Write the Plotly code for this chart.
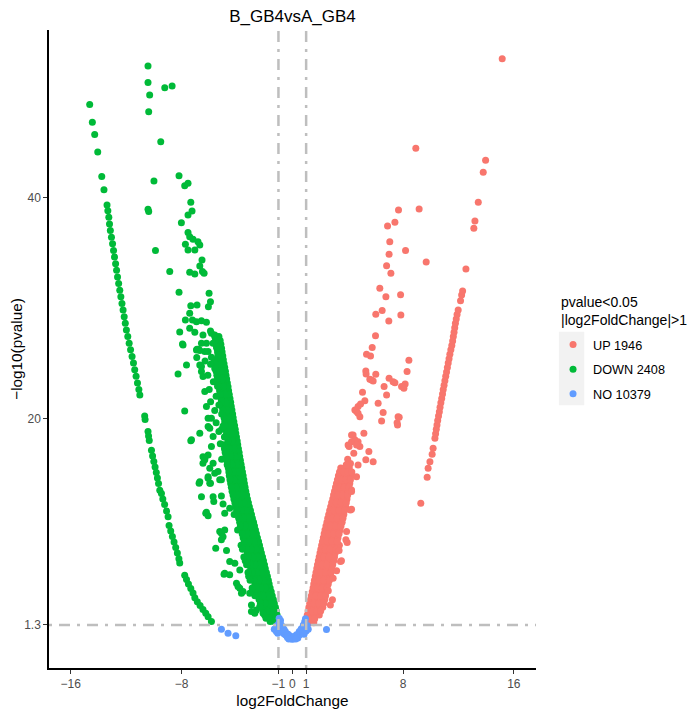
import plotly.graph_objects as go

# colours of the three groups (ggplot default hue palette)
UP_COLOR = "#F8766D"
DOWN_COLOR = "#00BA38"
NO_COLOR = "#619CFF"

group_names = ["UP 1946", "DOWN 2408", "NO 10379"]
x_ticks = [-16, -8, -1, 0, 1, 8, 16]
y_ticks = [1.3, 20, 40]
y_tick_labels = ["1.3", "20", "40"]
fc_cut = 1
p_cut = 1.3

# --- DOWN genes -----------------------------------------------------------
# outer arc of strongly down-regulated genes
down_arc_x = [-14.63, -14.44, -14.27, -14.05, -13.76, -13.60, -13.38, -13.32,
              -13.25, -13.20, -13.14, -13.06, -12.98, -12.91, -12.84, -12.76,
              -12.69, -12.62, -12.54, -12.46, -12.38, -12.30, -12.22, -12.14,
              -12.06, -11.98, -11.88, -11.78, -11.68, -11.57, -11.47, -11.38,
              -11.28, -11.18, -11.08, -11.01, -10.66, -10.63, -10.42, -10.38,
              -10.33, -10.17, -10.09, -10.00, -9.91, -9.82, -9.74, -9.66,
              -9.57, -9.45, -9.35, -9.22, -9.08, -8.97, -8.90, -8.78, -8.66,
              -8.54, -8.42, -8.30, -8.19, -8.13, -7.77, -7.64, -7.50, -7.33,
              -7.17, -7.04, -6.86, -6.66, -6.45, -6.25, -6.08, -5.84]
down_arc_y = [48.4, 46.8, 45.7, 44.1, 41.9, 40.7, 39.3, 38.8,
              38.2, 37.6, 37.0, 36.4, 35.8, 35.2, 34.6, 34.0,
              33.4, 32.8, 32.2, 31.6, 31.0, 30.4, 29.8, 29.2,
              28.6, 28.0, 27.4, 26.8, 26.2, 25.6, 25.0, 24.4,
              23.8, 23.2, 22.6, 22.1, 20.2, 19.9, 18.8, 18.4,
              18.0, 17.1, 16.6, 16.1, 15.6, 15.1, 14.6, 14.1,
              13.5, 13.2, 12.7, 12.2, 11.6, 11.1, 10.3, 9.8, 9.3,
              8.8, 8.3, 7.8, 7.3, 6.9, 5.8, 5.4, 5.0, 4.6,
              4.2, 3.75, 3.4, 3.05, 2.7, 2.35, 2.05, 1.6]

# dense band along the significance boundary (one row per -log10 level)
down_band_y = [1.6, 2.2, 2.9, 3.6, 4.3, 5.0, 5.7, 6.4, 7.1, 7.8, 8.5, 9.2,
               9.9, 10.6, 11.3, 12.0, 12.7, 13.4, 14.1, 14.8, 15.5, 16.2,
               16.9, 17.6, 18.3, 19.0, 19.7, 20.4, 21.1, 21.8, 22.5, 23.2,
               23.9, 24.6, 25.3, 26.0, 26.7, 27.4]
down_band_x = [
    [-1.02, -1.3, -1.6],
    [-1.1, -1.4, -1.7, -2.0],
    [-1.22, -1.55, -1.9, -2.25],
    [-1.37, -1.7, -2.05, -2.4],
    [-1.52, -1.85, -2.2, -2.55, -2.85],
    [-1.67, -2.0, -2.35, -2.7],
    [-1.8, -2.15, -2.5, -2.85, -3.15],
    [-1.95, -2.3, -2.65, -3.0],
    [-2.08, -2.42, -2.77, -3.1, -3.4],
    [-2.23, -2.58, -2.92, -3.25],
    [-2.37, -2.7, -3.05, -3.4, -3.7],
    [-2.52, -2.85, -3.2, -3.55],
    [-2.66, -3.0, -3.35, -3.7, -3.95],
    [-2.8, -3.12, -3.45, -3.8],
    [-2.95, -3.3, -3.6, -3.95, -4.2],
    [-3.1, -3.42, -3.75, -4.1],
    [-3.24, -3.56, -3.9, -4.22],
    [-3.36, -3.7, -4.02, -4.35],
    [-3.46, -3.8, -4.12, -4.45],
    [-3.55, -3.88, -4.22, -4.55],
    [-3.65, -3.98, -4.3, -4.62],
    [-3.75, -4.08, -4.4, -4.72],
    [-3.84, -4.17, -4.5, -4.85],
    [-3.94, -4.27, -4.6, -4.95],
    [-4.03, -4.36, -4.7],
    [-4.12, -4.45, -4.8, -5.1],
    [-4.22, -4.55, -4.88],
    [-4.31, -4.64, -4.98],
    [-4.41, -4.74, -5.08],
    [-4.5, -4.83, -5.15],
    [-4.6, -4.92, -5.25],
    [-4.69, -5.02, -5.35],
    [-4.79, -5.12, -5.45],
    [-4.88, -5.2, -5.55],
    [-4.98, -5.3, -5.62],
    [-5.07, -5.4],
    [-5.16, -5.5],
    [-5.3, -5.6],
]
# in-between rows of the same band
down_band2_y = [1.9, 2.55, 3.25, 3.95, 4.65, 5.35, 6.05, 6.75, 7.45, 8.15,
                8.85, 9.55, 10.25, 10.95, 11.65, 12.35, 13.05, 13.75, 14.45,
                15.15, 15.85, 16.55, 17.25, 17.95, 18.65, 19.35, 20.05, 20.75,
                21.45, 22.15, 22.85, 23.55, 24.25, 24.95, 25.65, 26.35, 27.05]
down_band2_x = [
    [-1.05, -1.35, -1.65, -1.9],
    [-1.15, -1.45, -1.8, -2.1],
    [-1.3, -1.62, -1.97, -2.3],
    [-1.45, -1.78, -2.12, -2.47, -2.7],
    [-1.6, -1.93, -2.27, -2.62, -2.9],
    [-1.73, -2.07, -2.42, -2.77, -3.05],
    [-1.87, -2.22, -2.57, -2.92, -3.2],
    [-2.01, -2.36, -2.7, -3.05, -3.3],
    [-2.15, -2.5, -2.85, -3.18, -3.5],
    [-2.3, -2.64, -2.98, -3.32, -3.6],
    [-2.44, -2.78, -3.12, -3.47],
    [-2.59, -2.92, -3.27, -3.62],
    [-2.73, -3.06, -3.4, -3.75],
    [-2.88, -3.2, -3.52, -3.87],
    [-3.02, -3.36, -3.68, -4.02],
    [-3.17, -3.5, -3.82, -4.15],
    [-3.3, -3.62, -3.96, -4.28],
    [-3.41, -3.74, -4.07, -4.4],
    [-3.5, -3.83, -4.17, -4.5],
    [-3.6, -3.93, -4.26, -4.58],
    [-3.7, -4.03, -4.35, -4.68],
    [-3.8, -4.12, -4.45, -4.8],
    [-3.89, -4.22, -4.55, -4.9],
    [-3.98, -4.31, -4.65],
    [-4.08, -4.4, -4.75],
    [-4.17, -4.5, -4.84],
    [-4.27, -4.6, -4.93],
    [-4.36, -4.69, -5.03],
    [-4.45, -4.78, -5.12],
    [-4.55, -4.88, -5.2],
    [-4.64, -4.97, -5.3],
    [-4.74, -5.07, -5.4],
    [-4.83, -5.16, -5.5],
    [-4.93, -5.25, -5.58],
    [-5.02, -5.35],
    [-5.11, -5.45],
    [-5.21, -5.55],
]

# scattered down genes
down_scatter_x = [-10.42, -10.42, -10.30, -9.21, -8.68, -10.37, -9.50, -9.99,
                  -10.42, -10.37, -9.88, -8.85, -8.18, -8.18, -7.77, -7.53,
                  -7.33, -7.24, -7.53, -8.01, -7.53, -7.41, -7.72, -7.53,
                  -7.17, -6.81, -6.68, -7.04, -6.52, -6.68, -7.41, -7.04,
                  -6.49, -6.37, -6.01, -5.91, -6.06, -7.33, -6.88, -7.72,
                  -7.41, -7.21, -6.92, -6.56, -6.20, -5.91, -8.13, -7.41,
                  -7.04, -6.45, -5.84, -5.60, -5.72, -5.48, -6.20, -6.88,
                  -7.89, -6.68, -6.08, -5.36, -5.84,
                  -7.93, -6.56, -7.64, -8.25, -6.76, -6.68, -6.56, -7.77,
                  -7.33, -6.68, -6.08, -5.96, -6.45, -6.08, -6.32, -5.72,
                  -5.96, -5.36, -6.73, -6.08, -5.91, -5.24, -6.56, -5.72,
                  -5.12, -6.20, -6.08, -5.24, -4.88, -5.12, -5.53, -4.75,
                  -4.88, -4.52, -3.79, -3.92, -3.56, -2.59, -2.95, -2.11,
                  -5.67, -6.25, -5.00, -4.88, -4.52, -5.12, -5.00, -4.52,
                  -4.15, -4.93, -4.03, -3.79, -3.67, -3.07, -2.95, -2.71,
                  -2.35, -6.92, -6.32, -6.56, -6.45, -6.32, -6.20, -5.84,
                  -6.08, -7.28, -5.72, -5.84, -6.32, -6.45, -6.68, -5.96,
                  -6.08, -5.60, -5.12,
                  -6.9, -6.3, -5.9, -5.6, -6.1, -5.7, -5.4, -6.0, -5.5,
                  -5.9, -5.3, -5.6, -5.1, -5.5, -5.0, -5.3, -4.9, -5.2,
                  -4.8, -5.1, -4.7]
down_scatter_y = [51.9, 50.4, 49.27, 49.93, 50.08, 47.76, 45.04, 41.48,
                  38.92, 38.71, 35.18, 33.28, 31.41, 41.96, 41.06, 41.28,
                  39.56, 38.77, 38.41, 37.71, 36.81, 36.44, 35.76, 35.24,
                  36.21, 35.99, 35.69, 35.24, 34.33, 33.79, 33.22, 33.07,
                  33.28, 33.13, 31.32, 30.56, 30.11, 30.20, 30.26, 28.90,
                  29.51, 28.90, 28.75, 28.84, 28.70, 27.91, 27.82, 28.15,
                  27.79, 27.55, 27.70, 27.55, 26.80, 26.49, 26.80, 26.25,
                  26.64, 26.13, 26.04, 25.74, 25.53,
                  26.73, 26.8, 24.83, 24.02, 26.25, 24.83, 24.23, 20.67,
                  17.98, 18.65, 20.01, 19.10, 16.53, 16.69, 16.24, 15.94,
                  15.48, 15.18, 14.13, 14.58, 14.13, 14.43, 12.91, 12.91,
                  12.98, 11.50, 11.19, 9.75, 9.90, 9.0, 8.24, 8.03,
                  5.98, 5.83, 6.28, 4.77, 4.32, 2.66, 3.11, 2.36,
                  12.46, 11.41, 12.25, 11.41, 11.86, 9.6, 9.29, 7.03,
                  6.89, 5.89, 5.08, 4.62, 4.17, 4.17, 2.51, 2.36,
                  2.96, 26.19, 26.04, 24.68, 23.78, 22.42, 21.06, 20.01,
                  19.25, 18.05, 18.35, 17.44, 16.39, 15.94, 14.27, 14.12,
                  14.72, 15.03, 14.43,
                  25.5, 25.2, 24.9, 24.5, 23.9, 23.3, 22.9, 22.6, 22.0,
                  21.5, 21.2, 20.7, 20.4, 19.6, 19.3, 18.8, 18.3, 17.7,
                  17.0, 16.3, 15.8]

# --- UP genes -------------------------------------------------------------
up_band_y = [1.5, 2.2, 2.9, 3.6, 4.3, 5.0, 5.7, 6.4, 7.1, 7.8, 8.5, 9.2,
             9.9, 10.6, 11.3, 12.0, 12.7, 13.4, 14.1, 14.8, 15.5]
up_band_x = [
    [1.0, 1.3, 1.55],
    [1.08, 1.4, 1.7, 1.95],
    [1.2, 1.52, 1.85, 2.2],
    [1.32, 1.65, 2.0, 2.35],
    [1.44, 1.77, 2.1, 2.45],
    [1.55, 1.88, 2.22, 2.6],
    [1.66, 2.0, 2.34, 2.75],
    [1.77, 2.1, 2.45, 2.85],
    [1.88, 2.22, 2.57, 3.0],
    [2.0, 2.33, 2.68, 3.1],
    [2.12, 2.45, 2.8, 3.2, 3.4],
    [2.24, 2.57, 2.92, 3.3],
    [2.36, 2.7, 3.05, 3.45],
    [2.5, 2.83, 3.18, 3.6],
    [2.63, 2.96, 3.3, 3.72],
    [2.77, 3.1, 3.45, 3.85],
    [2.92, 3.25, 3.58, 3.95],
    [3.05, 3.38, 3.7, 4.05],
    [3.19, 3.5, 3.82, 4.15],
    [3.33, 3.63, 3.95, 4.25],
    [3.5, 3.8, 4.12],
]
up_band2_y = [1.85, 2.55, 3.25, 3.95, 4.65, 5.35, 6.05, 6.75, 7.45, 8.15,
              8.85, 9.55, 10.25, 10.95, 11.65, 12.35, 13.05, 13.75, 14.45,
              15.15]
up_band2_x = [
    [1.03, 1.35, 1.62],
    [1.14, 1.46, 1.78, 2.05],
    [1.26, 1.58, 1.92, 2.28],
    [1.38, 1.71, 2.05, 2.4],
    [1.5, 1.82, 2.16, 2.52],
    [1.6, 1.94, 2.28, 2.68],
    [1.71, 2.05, 2.4, 2.8],
    [1.82, 2.16, 2.51, 2.92],
    [1.94, 2.28, 2.62, 3.05],
    [2.06, 2.39, 2.74, 3.15],
    [2.18, 2.51, 2.86, 3.25],
    [2.3, 2.63, 2.98, 3.38],
    [2.43, 2.77, 3.12, 3.52],
    [2.56, 2.9, 3.24, 3.66],
    [2.7, 3.03, 3.38, 3.78],
    [2.84, 3.17, 3.52, 3.9],
    [2.98, 3.31, 3.64, 4.0],
    [3.12, 3.44, 3.76, 4.1],
    [3.26, 3.57, 3.88, 4.2],
    [3.41, 3.72, 4.03, 4.3],
]

up_scatter_x = [2.90, 2.95, 3.48, 3.38, 3.96, 3.92, 4.28, 4.28, 4.64, 4.75,
                3.55, 3.87, 4.20, 4.28, 2.6, 2.75, 3.2,
                5.31, 5.84, 5.53, 4.03, 4.28, 4.75, 4.28, 4.88, 5.17, 4.64,
                4.88, 4.75, 5.24, 4.93, 5.07, 4.39, 4.52, 4.64, 4.10, 4.44,
                4.52, 4.75, 4.0, 4.2, 3.9,
                5.72, 6.63, 6.81, 6.20, 6.56, 6.45, 7.28, 7.89, 7.64, 7.57,
                7.60, 7.72, 8.15, 8.06, 8.29, 8.42, 6.99, 7.41, 5.31, 5.33,
                6.03, 5.60, 5.84, 5.36, 5.65, 5.77, 6.01,
                6.03, 6.49, 6.97, 7.84, 6.32, 6.76, 7.82, 6.81, 7.12, 9.67,
                6.99, 8.18, 7.04, 7.41, 6.88, 7.67, 9.16, 8.92]
up_scatter_y = [3.57, 5.53, 7.03, 8.03, 8.75, 9.75, 11.77, 13.52, 14.72, 15.78,
                7.1, 9.0, 11.71, 13.37, 4.4, 3.1, 6.2,
                16.24, 16.08, 16.99, 17.59, 17.89, 17.89, 18.50, 17.44, 18.65,
                20.61, 20.15, 21.06, 21.60, 21.30, 22.36, 18.50, 18.05, 17.59,
                17.44, 16.84, 20.76, 20.46, 16.3, 15.9, 15.8,
                23.48, 22.87, 22.12, 21.37, 20.52, 19.76, 23.32, 22.87, 20.15,
                19.61, 19.40, 20.10, 23.11, 22.72, 24.23, 25.26, 23.63, 23.23,
                24.29, 24.02, 23.99, 23.54, 23.38, 25.80, 25.65, 26.40, 27.48,
                29.42, 29.75, 28.81, 29.36, 31.77, 31.01, 31.19, 33.82, 33.13,
                34.15, 34.85, 35.18, 35.99, 37.75, 37.41, 38.86, 38.95, 44.44]

# the steep line of up genes on the right
up_line_x = [9.28, 9.74, 9.81, 9.94, 10.10, 10.17, 10.30, 10.35, 10.40, 10.45,
             10.50, 10.56, 10.62, 10.67, 10.73, 10.79, 10.85, 10.90, 10.96,
             11.02, 11.08, 11.14, 11.20, 11.26, 11.32, 11.38, 11.45, 11.52,
             11.58, 11.63, 11.68, 11.73, 11.78, 11.84, 11.90, 11.98, 12.15,
             12.23, 12.30, 12.54, 13.11, 13.19, 13.43, 13.79, 13.96, 15.16]
up_line_y = [12.32, 14.67, 15.48, 16.08, 16.75, 17.29, 18.2, 18.6, 19.0, 19.4,
             19.8, 20.2, 20.6, 21.0, 21.4, 21.8, 22.2, 22.6, 23.0,
             23.4, 23.8, 24.2, 24.6, 25.0, 25.4, 25.8, 26.2, 26.6,
             27.0, 27.4, 27.8, 28.2, 28.6, 29.0, 29.4, 29.8, 30.65,
             31.17, 31.53, 33.52, 37.2, 37.86, 39.56, 42.27, 43.36, 52.55]

# --- NO genes -------------------------------------------------------------
no_x = [0.0, -0.1, 0.1, -0.2, 0.2, -0.3, 0.3, -0.4, 0.4, -0.5, 0.5, -0.6,
        0.6, -0.7, 0.7, -0.8, 0.8, -0.9, 0.9, -1.0, 1.0, -1.1, 1.08, -1.2,
        -1.3, 1.15, -0.95, -0.85, -0.95, 0.9, 0.95, 0.8, -0.7, -0.5, 0.5,
        -0.3, 0.3, -0.15, 0.15, 0.0, -0.6, 0.65, -0.8, -0.35, 0.4, -0.25,
        0.25, -1.15, -1.05, 1.0, 0.85, -5.12, -4.64, -4.08, 2.47]
no_y = [0.0, 0.05, 0.05, 0.12, 0.1, 0.2, 0.18, 0.3, 0.28, 0.4, 0.38, 0.5,
        0.5, 0.65, 0.65, 0.8, 0.8, 1.0, 0.95, 1.15, 1.1, 1.25, 1.25, 1.0,
        0.9, 0.9, 1.5, 1.7, 1.9, 1.6, 1.85, 1.3, 1.1, 0.7, 0.7,
        0.45, 0.4, 0.3, 0.25, 0.15, 0.9, 0.95, 1.3, 0.15, 0.12, 0.02,
        0.02, 0.7, 0.55, 0.75, 0.45, 0.91, 0.55, 0.31, 0.88]


def flatten_rows(rows_y, rows_x):
    xs, ys = [], []
    for y, row in zip(rows_y, rows_x):
        for x in row:
            xs.append(x)
            ys.append(y)
    return xs, ys


band_dx, band_dy = flatten_rows(down_band_y + down_band2_y,
                                down_band_x + down_band2_x)
down_x = down_arc_x + band_dx + down_scatter_x
down_y = down_arc_y + band_dy + down_scatter_y

band_ux, band_uy = flatten_rows(up_band_y + up_band2_y, up_band_x + up_band2_x)
up_x = band_ux + up_scatter_x + up_line_x
up_y = band_uy + up_scatter_y + up_line_y

fig = go.Figure()
traces = [
    (down_x, down_y, group_names[1], DOWN_COLOR, 2),
    (up_x, up_y, group_names[0], UP_COLOR, 1),
    (no_x, no_y, group_names[2], NO_COLOR, 3),
]
for xs, ys, name, color, rank in traces:
    fig.add_trace(go.Scatter(
        x=xs, y=ys, mode="markers", name=name, legendrank=rank,
        legendgroup=name,
        marker=dict(color=color, size=7, line=dict(width=0)),
    ))

# threshold lines drawn on top of the points
line_style = dict(color="#BEBEBE", width=2.5, dash="3px,7px,11px,7px")
for xv in (-fc_cut, fc_cut):
    fig.add_shape(type="line", xref="x", yref="paper", x0=xv, x1=xv,
                  y0=0, y1=1, line=line_style)
fig.add_shape(type="line", xref="paper", yref="y", x0=0, x1=1,
              y0=p_cut, y1=p_cut, line=line_style)

# grey background behind the legend keys
fig.add_shape(type="rect", xref="paper", yref="paper", x0=1.047, x1=1.099,
              y0=0.412, y1=0.527, fillcolor="#F2F2F2", line=dict(width=0),
              layer="below")

# legend title (drawn as a note so it can sit apart from the keys)
fig.add_annotation(text="pvalue<0.05<br>|log2FoldChange|>1", xref="paper",
                   yref="paper", x=1.047, y=0.59, xanchor="left",
                   yanchor="top", align="left", showarrow=False,
                   font=dict(size=14))

axis_common = dict(
    showgrid=False, zeroline=False, showline=True, linecolor="black",
    linewidth=1.5, ticks="outside", ticklen=4, tickcolor="#333333",
    tickfont=dict(size=12, color="#4D4D4D"), automargin=False,
)

fig.update_layout(
    width=691, height=702,
    margin=dict(l=41, r=163, t=22, b=42),
    paper_bgcolor="white", plot_bgcolor="white",
    font=dict(family="Liberation Sans, Arial, sans-serif", color="black"),
    title=dict(text="B_GB4vsA_GB4", x=284.5 / 691, xanchor="center",
               y=1 - 2 / 702, yanchor="top", pad=dict(t=0, b=0),
               font=dict(size=17)),
    showlegend=True,
    legend=dict(
        x=1.035, xanchor="left", y=0.530, yanchor="top",
        font=dict(size=12.7), bgcolor="rgba(0,0,0,0)", tracegroupgap=5,
    ),
    xaxis=dict(range=[-17.57, 17.6], tickvals=x_ticks,
               title=dict(text="log2FoldChange", font=dict(size=15.3),
                          standoff=5),
               **axis_common),
    yaxis=dict(range=[-2.6, 55.15], tickvals=y_ticks, ticktext=y_tick_labels,
               title=dict(text="\u2212log10(pvalue)", font=dict(size=15.3),
                          standoff=6),
               **axis_common),
)

fig.write_html("out.html")
